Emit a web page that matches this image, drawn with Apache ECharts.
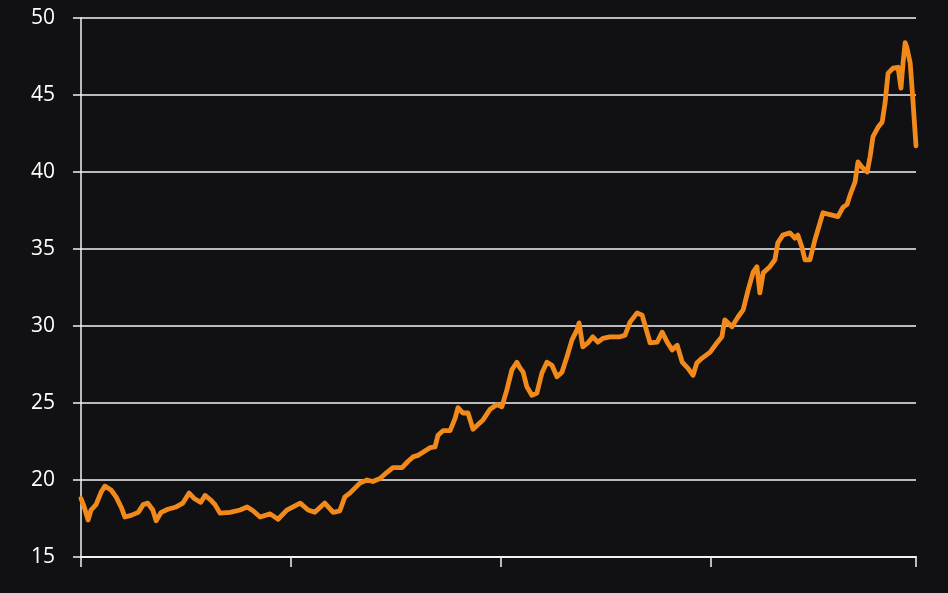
<!DOCTYPE html>
<html>
<head>
<meta charset="utf-8">
<script src="https://cdn.jsdelivr.net/npm/echarts@6/dist/echarts.min.js"></script>
<style>
html,body{margin:0;padding:0;background:#111013;}
#chart{width:948px;height:593px;}
</style>
</head>
<body>
<div id="chart"></div>
<script>
// time (years from start) and values
const times = [0,0.07,0.17,0.24,0.36,0.48,0.57,0.72,0.84,0.96,1.05,1.20,1.37,1.49,1.60,1.72,1.80,1.92,2.08,2.28,2.44,2.59,2.71,2.87,2.97,3.11,3.21,3.33,3.57,3.81,3.98,4.12,4.29,4.53,4.72,4.93,5.25,5.44,5.60,5.84,6.04,6.20,6.32,6.44,6.68,6.85,6.99,7.16,7.33,7.47,7.69,7.83,7.95,8.07,8.19,8.36,8.48,8.55,8.67,8.84,8.96,9.03,9.15,9.27,9.39,9.51,9.63,9.80,9.96,10.08,10.20,10.32,10.44,10.51,10.59,10.68,10.80,10.92,11.04,11.16,11.28,11.40,11.52,11.64,11.76,11.88,11.93,12.02,12.14,12.26,12.38,12.50,12.67,12.91,13.03,13.15,13.32,13.44,13.51,13.63,13.80,13.92,14.04,14.16,14.28,14.40,14.54,14.66,14.75,14.87,15.07,15.23,15.35,15.42,15.59,15.74,15.86,15.98,16.10,16.19,16.26,16.34,16.50,16.62,16.69,16.81,16.98,17.10,17.17,17.27,17.34,17.46,17.58,17.77,17.99,18.13,18.25,18.35,18.42,18.54,18.61,18.71,18.83,18.90,18.97,19.09,19.19,19.26,19.33,19.45,19.57,19.64,19.69,19.74,19.78,19.86,19.92,20.0];
const values = [18.8,18.3,17.4,18.05,18.4,19.2,19.6,19.35,18.9,18.25,17.6,17.7,17.9,18.4,18.5,18.05,17.35,17.9,18.1,18.25,18.5,19.15,18.8,18.55,19.0,18.7,18.4,17.85,17.9,18.05,18.25,18.0,17.6,17.8,17.45,18.05,18.5,18.05,17.9,18.5,17.9,18.0,18.9,19.15,19.8,20.0,19.9,20.1,20.5,20.8,20.8,21.2,21.5,21.6,21.8,22.1,22.15,22.9,23.2,23.2,24.0,24.7,24.35,24.35,23.3,23.6,23.9,24.6,24.9,24.75,25.85,27.15,27.65,27.3,27.0,26.05,25.5,25.65,26.95,27.65,27.45,26.7,27.0,28.0,29.1,29.75,30.2,28.65,28.9,29.3,28.95,29.2,29.3,29.3,29.4,30.25,30.85,30.7,30.05,28.9,28.95,29.6,28.95,28.45,28.75,27.65,27.25,26.8,27.6,27.9,28.3,28.9,29.3,30.4,29.95,30.6,31.05,32.35,33.5,33.85,32.15,33.45,33.85,34.3,35.4,35.9,36.05,35.7,35.9,35.1,34.3,34.3,35.6,37.35,37.2,37.1,37.7,37.9,38.5,39.35,40.65,40.3,40.0,41.0,42.3,42.9,43.25,44.5,46.4,46.75,46.8,45.45,47.1,48.4,48.1,47.1,44.9,41.7];
const yTicks = {min: 15, max: 50, step: 5};
const xTicks = {min: 0, max: 20, step: 5.03};

const seriesData = times.map((t, i) => [t, values[i]]);

const chart = echarts.init(document.getElementById('chart'));
chart.setOption({
  backgroundColor: '#111013',
  animation: false,
  grid: {left: 81, right: 32, top: 18, bottom: 36},
  xAxis: {
    type: 'value',
    min: xTicks.min, max: xTicks.max, interval: xTicks.step,
    axisLine: {show: true, lineStyle: {color: '#f2f2f2', width: 2}},
    axisTick: {show: true, length: 10, lineStyle: {color: '#f2f2f2', width: 1.5}},
    axisLabel: {show: false},
    splitLine: {show: false}
  },
  yAxis: {
    type: 'value',
    min: yTicks.min, max: yTicks.max, interval: yTicks.step,
    axisLine: {show: true, lineStyle: {color: '#f2f2f2', width: 1.5}},
    axisTick: {show: true, length: 8, lineStyle: {color: '#f2f2f2', width: 1.5}},
    axisLabel: {color: '#ffffff', fontSize: 21, fontFamily: 'Open Sans', fontWeight: 500, margin: 26},
    splitLine: {show: true, lineStyle: {color: '#f4f4f4', width: 1.6}}
  },
  series: [{
    type: 'line',
    data: seriesData,
    showSymbol: false,
    symbol: 'none',
    lineStyle: {color: '#f28a1b', width: 4.8, join: 'round', cap: 'round'},
    z: 5
  }]
});
</script>
</body>
</html>
